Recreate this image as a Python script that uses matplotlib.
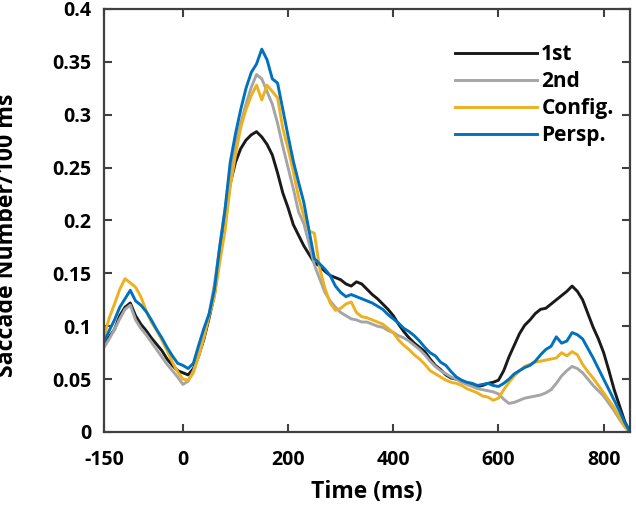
import numpy as np
import matplotlib
matplotlib.use('Agg')
import matplotlib.pyplot as plt
from matplotlib.ticker import FormatStrFormatter

# dados (tempo em ms, passo de 10 ms)
tempo = np.arange(-150, 851, 10)

primeira = [0.085, 0.090, 0.097, 0.110, 0.118, 0.122, 0.110, 0.102, 0.096, 0.089,
            0.083, 0.077, 0.069, 0.063, 0.058, 0.056, 0.054, 0.060, 0.072, 0.088,
            0.108, 0.130, 0.165, 0.200, 0.235, 0.255, 0.268, 0.276, 0.281, 0.284,
            0.279, 0.272, 0.262, 0.245, 0.226, 0.212, 0.196, 0.186, 0.176, 0.168,
            0.160, 0.157, 0.152, 0.148, 0.146, 0.144, 0.140, 0.138, 0.142, 0.140,
            0.135, 0.130, 0.126, 0.121, 0.116, 0.110, 0.102, 0.095, 0.089, 0.084,
            0.080, 0.076, 0.069, 0.063, 0.059, 0.054, 0.051, 0.050, 0.048, 0.046,
            0.044, 0.043, 0.044, 0.046, 0.047, 0.049, 0.058, 0.071, 0.082, 0.093,
            0.101, 0.106, 0.112, 0.116, 0.117, 0.121, 0.125, 0.129, 0.133, 0.138,
            0.133, 0.125, 0.112, 0.099, 0.088, 0.075, 0.058, 0.040, 0.025, 0.010,
            0.0]

segunda = [0.080, 0.088, 0.097, 0.107, 0.116, 0.120, 0.106, 0.098, 0.092, 0.085,
           0.078, 0.071, 0.064, 0.058, 0.052, 0.045, 0.048, 0.058, 0.072, 0.090,
           0.112, 0.140, 0.175, 0.210, 0.245, 0.272, 0.292, 0.310, 0.326, 0.338,
           0.334, 0.322, 0.310, 0.292, 0.270, 0.250, 0.230, 0.208, 0.197, 0.178,
           0.158, 0.145, 0.132, 0.124, 0.118, 0.113, 0.110, 0.107, 0.106, 0.104,
           0.104, 0.102, 0.100, 0.099, 0.096, 0.094, 0.091, 0.089, 0.086, 0.082,
           0.078, 0.073, 0.067, 0.062, 0.058, 0.055, 0.052, 0.050, 0.047, 0.045,
           0.043, 0.041, 0.040, 0.039, 0.038, 0.036, 0.031, 0.027, 0.028, 0.030,
           0.032, 0.033, 0.034, 0.035, 0.037, 0.040, 0.046, 0.053, 0.058, 0.062,
           0.060, 0.056, 0.050, 0.044, 0.039, 0.034, 0.027, 0.020, 0.012, 0.005,
           0.0]

config = [0.090, 0.108, 0.121, 0.135, 0.145, 0.141, 0.137, 0.128, 0.115, 0.104,
          0.096, 0.087, 0.077, 0.066, 0.057, 0.050, 0.049, 0.056, 0.072, 0.090,
          0.110, 0.128, 0.160, 0.190, 0.232, 0.262, 0.288, 0.305, 0.318, 0.328,
          0.314, 0.328, 0.322, 0.316, 0.287, 0.268, 0.246, 0.222, 0.204, 0.190,
          0.188, 0.155, 0.136, 0.122, 0.115, 0.117, 0.121, 0.123, 0.113, 0.109,
          0.108, 0.106, 0.104, 0.102, 0.098, 0.094, 0.087, 0.082, 0.078, 0.073,
          0.069, 0.064, 0.058, 0.055, 0.052, 0.049, 0.047, 0.046, 0.044, 0.041,
          0.039, 0.037, 0.034, 0.033, 0.030, 0.032, 0.040, 0.047, 0.053, 0.058,
          0.062, 0.064, 0.066, 0.067, 0.068, 0.069, 0.070, 0.075, 0.072, 0.076,
          0.073, 0.064, 0.057, 0.051, 0.044, 0.037, 0.030, 0.023, 0.014, 0.005,
          0.0]

persp = [0.085, 0.096, 0.106, 0.118, 0.126, 0.134, 0.124, 0.120, 0.114, 0.106,
         0.097, 0.089, 0.080, 0.072, 0.065, 0.063, 0.060, 0.065, 0.082, 0.098,
         0.112, 0.135, 0.175, 0.210, 0.255, 0.282, 0.305, 0.325, 0.340, 0.348,
         0.362, 0.352, 0.334, 0.330, 0.305, 0.280, 0.256, 0.236, 0.217, 0.190,
         0.164, 0.159, 0.154, 0.148, 0.138, 0.132, 0.128, 0.130, 0.128, 0.126,
         0.124, 0.122, 0.119, 0.116, 0.111, 0.107, 0.103, 0.098, 0.095, 0.091,
         0.086, 0.080, 0.075, 0.072, 0.066, 0.063, 0.057, 0.052, 0.049, 0.047,
         0.046, 0.044, 0.045, 0.046, 0.044, 0.043, 0.046, 0.050, 0.055, 0.058,
         0.061, 0.063, 0.067, 0.073, 0.078, 0.081, 0.090, 0.084, 0.086, 0.094,
         0.092, 0.088, 0.079, 0.070, 0.060, 0.050, 0.040, 0.030, 0.020, 0.009,
         0.0]

rotulos = ['1st', '2nd', 'Config.', 'Persp.']
cores = ['#1a1a1a', '#a5a5a5', '#EDB120', '#0072BD']
series = [primeira, segunda, config, persp]

plt.rcParams['font.family'] = ['Open Sans', 'DejaVu Sans']
plt.rcParams['font.weight'] = 'bold'
plt.rcParams['axes.unicode_minus'] = False

fig = plt.figure(figsize=(6.36, 5.11), dpi=100)
ax = fig.add_axes([0.1635, 0.1546, 0.827, 0.8278])

# uma linha por condição
for s, c, r in zip(series, cores, rotulos):
    ax.plot(tempo, s, color=c, linewidth=2.1, label=r)

ax.set_xlim(-150, 850)
ax.set_ylim(0, 0.4)
ax.set_xticks([-150, 0, 200, 400, 600, 800])
ax.set_yticks(np.arange(0, 0.41, 0.05))
ax.yaxis.set_major_formatter(FormatStrFormatter('%g'))
ax.tick_params(direction='in', length=6, width=1.5, color='#404040',
               labelsize=14, top=True, right=True)
ax.tick_params(axis='x', pad=13)
ax.tick_params(axis='y', pad=9)
for sp in ax.spines.values():
    sp.set_color('#404040')
    sp.set_linewidth(1.6)

ax.set_xlabel('Time (ms)', fontsize=16.5, fontweight='bold', labelpad=7)
# rótulo do eixo y cortado na borda, como no original
ax.set_ylabel('Saccade Number/100 ms', fontsize=16.7, fontweight='bold')
ax.yaxis.set_label_coords(-0.161, 0.464)

ax.legend(loc='upper left', bbox_to_anchor=(0.667, 0.917), frameon=False,
          fontsize=15, handlelength=3.95, handletextpad=0.2,
          labelspacing=0.29, borderpad=0, borderaxespad=0)

fig.savefig('out.png', dpi=100)
